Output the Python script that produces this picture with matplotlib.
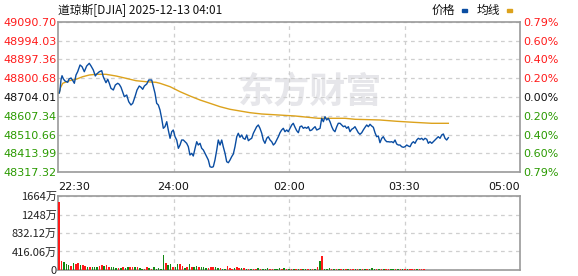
import matplotlib
matplotlib.use("Agg")
import matplotlib.pyplot as plt

# ---------------- data ----------------
prev_close = 48704.01
y_ticks = [48317.32, 48413.99, 48510.66, 48607.34, 48704.01, 48800.68, 48897.36, 48994.03, 49090.70]
pct_labels = ["0.79%", "0.60%", "0.40%", "0.20%", "0.00%", "0.20%", "0.40%", "0.60%", "0.79%"]
x_tick_pos = [0, 97.5, 195, 292.5, 390]           # minutes after 22:30
x_tick_labels = ["22:30", "24:00", "02:00", "03:30", "05:00"]

price_min = [1.1, 1.7, 2.5, 3.4, 4.6, 5.9, 8.2, 9.3, 11.0, 12.2, 13.8, 15.2, 16.6, 18.6, 20.3, 22.2,
             24.2, 26.4, 27.9, 29.8, 31.5, 32.7, 34.9, 36.9, 38.2, 40.5, 42.0, 43.3, 44.7, 46.7, 48.4,
             50.4, 51.7, 53.2, 56.0, 58.0, 59.7, 61.6, 63.1, 65.0, 66.7, 68.6, 70.1, 71.5, 72.9, 74.9,
             76.6, 79.1, 80.5, 81.9, 83.3, 84.7, 86.1, 87.5, 88.9, 90.3, 91.8, 93.1, 94.6, 96.0, 97.3,
             98.8, 100.2, 101.6, 103.0, 104.4, 105.8, 107.2, 108.6, 110.0, 111.4, 112.9, 114.2, 115.7,
             117.1, 118.4, 119.9, 121.3, 122.7, 124.1, 125.5, 126.9, 128.3, 129.8, 131.1, 132.5, 134.0,
             135.3, 136.8, 138.2, 139.5, 141.0, 142.4, 143.8, 145.2, 146.6, 148.0, 149.4, 150.9, 152.2,
             153.6, 155.1, 156.4, 157.9, 159.3, 160.7, 162.1, 163.5, 164.9, 166.3, 167.7, 169.1, 170.5,
             172.0, 173.3, 174.7, 176.2, 177.5, 179.0, 180.4, 181.8, 183.2, 184.6, 186.0, 187.4, 188.8,
             190.2, 191.6, 193.1, 194.4, 195.9, 197.3, 198.6, 200.1, 201.5, 202.9, 204.3, 205.7, 207.1,
             208.5, 210.0, 211.3, 212.7, 214.2, 215.5, 217.0, 218.4, 219.7, 221.2, 222.6, 224.0, 225.4,
             226.8, 228.2, 229.6, 231.1, 232.4, 233.8, 235.3, 236.6, 238.1, 239.5, 240.9, 242.3, 243.7,
             245.1, 246.5, 247.9, 249.3, 250.7, 252.2, 253.5, 254.9, 256.4, 257.7, 259.2, 260.6, 262.0,
             263.4, 264.8, 266.2, 267.6, 269.0, 270.4, 271.8, 273.3, 274.6, 276.1, 277.5, 278.8, 280.3,
             281.7, 283.1, 284.5, 285.9, 287.3, 288.7, 290.1, 291.5, 292.9, 294.4, 295.7, 297.2, 298.6,
             300.0, 301.4, 302.8, 304.2, 305.6, 307.0, 308.4, 309.8, 311.3, 312.6, 314.0, 315.5, 316.8,
             318.3, 319.7, 321.0, 322.5, 323.9, 325.3, 326.7, 328.1, 329.5]
price_val = [48724.6, 48740.1, 48791.7, 48813.8, 48796.8, 48786.5, 48779.8, 48796.8, 48802.0, 48791.7,
             48774.7, 48817.4, 48834.4, 48869.0, 48860.2, 48834.4, 48863.8, 48877.7, 48863.8, 48843.2,
             48812.3, 48822.6, 48834.4, 48839.6, 48808.7, 48777.7, 48795.3, 48774.7, 48748.9, 48740.1,
             48765.9, 48774.7, 48769.5, 48754.0, 48705.6, 48714.3, 48679.8, 48662.8, 48671.5, 48705.6,
             48740.1, 48760.7, 48754.0, 48743.7, 48760.7, 48771.0, 48791.7, 48791.7, 48757.1, 48723.1,
             48671.5, 48662.8, 48637.0, 48594.2, 48542.6, 48550.9, 48576.7, 48533.9, 48491.1, 48525.1,
             48533.9, 48499.3, 48482.3, 48439.5, 48456.5, 48482.3, 48482.3, 48473.5, 48465.3, 48447.8,
             48405.0, 48413.7, 48399.8, 48439.5, 48473.5, 48456.5, 48465.3, 48439.5, 48430.7, 48413.7,
             48396.2, 48379.1, 48344.6, 48341.5, 48344.6, 48379.1, 48430.7, 48482.3, 48456.5, 48482.3,
             48447.8, 48413.7, 48370.4, 48365.2, 48379.1, 48396.2, 48410.1, 48447.8, 48499.3, 48516.9,
             48496.3, 48508.1, 48491.1, 48486.0, 48508.1, 48478.7, 48486.0, 48491.1, 48516.9, 48533.9,
             48550.9, 48559.7, 48542.6, 48516.9, 48482.3, 48465.3, 48491.1, 48499.3, 48482.3, 48473.5,
             48456.5, 48465.3, 48482.3, 48499.3, 48519.9, 48533.9, 48542.6, 48525.1, 48533.9, 48525.1,
             48542.6, 48559.7, 48568.4, 48547.8, 48530.3, 48519.9, 48550.9, 48554.5, 48542.6, 48547.8,
             48542.6, 48550.9, 48530.3, 48533.9, 48542.6, 48550.9, 48533.9, 48537.5, 48542.6, 48594.2,
             48576.7, 48602.5, 48585.5, 48594.2, 48576.7, 48550.9, 48533.9, 48525.1, 48550.9, 48568.4,
             48568.4, 48559.7, 48550.9, 48554.5, 48542.6, 48550.9, 48525.1, 48537.5, 48542.6, 48550.9,
             48533.9, 48519.9, 48511.7, 48519.9, 48533.9, 48547.8, 48559.7, 48550.9, 48563.3, 48554.5,
             48547.8, 48519.9, 48499.3, 48502.9, 48468.4, 48491.1, 48499.3, 48482.3, 48473.5, 48473.5,
             48472.0, 48473.5, 48468.4, 48482.3, 48461.7, 48456.5, 48456.5, 48447.8, 48444.7, 48447.8,
             48456.5, 48451.3, 48447.8, 48465.3, 48473.5, 48465.3, 48482.3, 48491.1, 48486.0, 48491.1,
             48482.3, 48491.1, 48486.0, 48465.3, 48473.5, 48465.3, 48473.5, 48482.3, 48491.1, 48499.3,
             48491.1, 48508.1, 48513.3, 48491.1, 48482.3, 48494.2]

avg_min = [1, 2, 4, 9.5, 15.2, 20.9, 26.4, 32.1, 40.5, 49, 57.4, 65.8, 74.3, 82.7, 86.1, 94.6, 103,
           111.4, 119.9, 128.3, 136.8, 145.2, 153.6, 162.1, 172, 186, 200.1, 219.7, 242.3, 250.7,
           271.8, 285.9, 300, 315.5, 329.5]
avg_val = [48724.6, 48750.4, 48774.7, 48788.1, 48795.3, 48808.7, 48817.4, 48821.0, 48821.0, 48812.3,
           48800.4, 48788.1, 48782.9, 48779.8, 48774.7, 48757.1, 48731.4, 48709.2, 48688.5, 48671.5,
           48654.0, 48640.6, 48631.9, 48623.1, 48616.4, 48611.3, 48606.1, 48594.2, 48594.2, 48589.1,
           48585.5, 48578.8, 48573.6, 48568.4, 48568.4]

# volume (万), one bar every 2 minutes starting at minute 1; 'r' up, 'g' down
vol_val = [1537, 200, 180, 127, 112, 90, 150, 127, 150, 112, 112, 90, 75, 75, 60, 60, 60, 97, 112, 90,
           112, 75, 60, 60, 37, 37, 37, 60, 45, 60, 75, 60, 60, 75, 52, 22, 22, 60, 37, 22,
           60, 30, 37, 22, 337, 150, 112, 135, 75, 75, 127, 127, 90, 37, 75, 127, 75, 75, 90, 75,
           60, 75, 37, 52, 60, 60, 75, 52, 37, 15, 15, 90, 52, 22, 52, 60, 52, 37, 52, 22,
           15, 15, 15, 15, 37, 15, 15, 15, 37, 15, 15, 15, 15, 37, 22, 52, 15, 15, 15, 15,
           15, 15, 15, 15, 15, 15, 15, 15, 15, 60, 202, 315, 15, 22, 37, 15, 15, 15, 15, 15,
           15, 15, 15, 15, 15, 15, 15, 15, 15, 15, 15, 15, 37, 15, 15, 15, 15, 15, 15, 15,
           15, 15, 15, 15, 15, 15, 15, 15, 15, 15, 15, 15, 15, 15, 15]
vol_dir = "rrgggrgrrgrrgrgggrrgrrgggrgrggrrgrggrrgrgggggrggrggrrgrgrggrgggrrrggrggrrrgrrgrgrgrrgrgggrrgggrgrgrgrgrggrgrgrgrgggrgrgrgrgrrgrgrgrgggrgrgrrggrgrgrgrrrgr"
vol_ticks = [0, 416.06, 832.12, 1248, 1664]
vol_tick_labels = ["0", "416.06万", "832.12万", "1248万", "1664万"]

# ---------------- style ----------------
W, H = 578, 276
RED = "#ff1a1a"
GREEN = "#2a9a00"
BLUE = "#0a4da2"
ORANGE = "#dca21c"
GRID = "#cfcfcf"
SPINE = "#9a9a9a"
CJK = ["Noto Sans CJK SC", "DejaVu Sans"]
plt.rcParams["font.family"] = CJK

fig = plt.figure(figsize=(W / 100, H / 100), dpi=100)

def rect(l, t, r, b):
    return [l / W, 1 - b / H, (r - l) / W, (b - t) / H]

ax = fig.add_axes(rect(58, 22, 520, 172))
axv = fig.add_axes(rect(58, 196, 520, 270))

for a in (ax, axv):
    a.set_xlim(0, 390)
    for s in a.spines.values():
        s.set_color(SPINE)
        s.set_linewidth(1.2)
    a.tick_params(length=0)
    a.set_xticks(x_tick_pos[1:-1])
    a.grid(True, color=GRID, linestyle=(0, (3, 3)), linewidth=0.9)
    a.set_axisbelow(True)

# watermark (axes-fraction placement)
ax.text(0.545, 0.535, "东方财富", transform=ax.transAxes, fontsize=26, fontweight="bold",
        color="#e6e6ea", ha="center", va="center", zorder=0, family=CJK)

ax.plot(avg_min, avg_val, color=ORANGE, linewidth=1.0, zorder=3)
ax.plot(price_min, price_val, color=BLUE, linewidth=1.0, zorder=4)

ax.set_ylim(y_ticks[0], y_ticks[-1])
ax.set_yticks(y_ticks)
ax.set_yticklabels([f"{v:.2f}" for v in y_ticks], family="DejaVu Sans", fontsize=8)
for lab, v in zip(ax.get_yticklabels(), y_ticks):
    lab.set_color(RED if v > prev_close + 0.01 else (GREEN if v < prev_close - 0.01 else "#111111"))
ax.tick_params(axis="y", pad=1)
ax.set_xticklabels([])

# x tick labels (main chart)
for pos, lab in zip(x_tick_pos, x_tick_labels):
    ha = "left" if pos == 0 else ("right" if pos == 390 else "center")
    ax.annotate(lab, xy=(pos, 0), xycoords=("data", "axes fraction"), xytext=(0, -11),
                textcoords="offset points", ha=ha, va="center", fontsize=8, family="DejaVu Sans",
                color="#111111")

axr = ax.twinx()
axr.set_ylim(y_ticks[0], y_ticks[-1])
axr.set_yticks(y_ticks)
axr.set_yticklabels(pct_labels, family="DejaVu Sans", fontsize=8)
for lab, v in zip(axr.get_yticklabels(), y_ticks):
    lab.set_color(RED if v > prev_close + 0.01 else (GREEN if v < prev_close - 0.01 else "#111111"))
axr.tick_params(length=0, pad=2)
for s in axr.spines.values():
    s.set_visible(False)

# volume
vol_x = [1 + 2 * i for i in range(len(vol_val))]
cols = [RED if c == "r" else "#118811" for c in vol_dir[:len(vol_val)]]
axv.bar(vol_x, vol_val, width=1.3, color=cols, linewidth=0, zorder=3)
axv.set_ylim(0, 1664)
axv.set_yticks(vol_ticks)
axv.set_yticklabels(vol_tick_labels, fontsize=8, family=CJK, color="#222222")
axv.tick_params(axis="y", pad=1)
axv.set_xticklabels([])

# title and legend
fig.text(58 / W, 1 - 10 / H, "道琼斯[DJIA] 2025-12-13 04:01", fontsize=8.5, ha="left", va="center",
         family=CJK, color="#111111")
fig.text(455 / W, 1 - 10 / H, "价格", fontsize=8.5, ha="right", va="center", family=CJK, color="#111111")
fig.patches.append(plt.Rectangle((462 / W, 1 - 12 / H), 5 / W, 3 / H, transform=fig.transFigure,
                                 color=BLUE, figure=fig))
fig.text(500 / W, 1 - 10 / H, "均线", fontsize=8.5, ha="right", va="center", family=CJK, color="#111111")
fig.patches.append(plt.Rectangle((507 / W, 1 - 12 / H), 5 / W, 3 / H, transform=fig.transFigure,
                                 color=ORANGE, figure=fig))

fig.savefig("out.png", dpi=100)
